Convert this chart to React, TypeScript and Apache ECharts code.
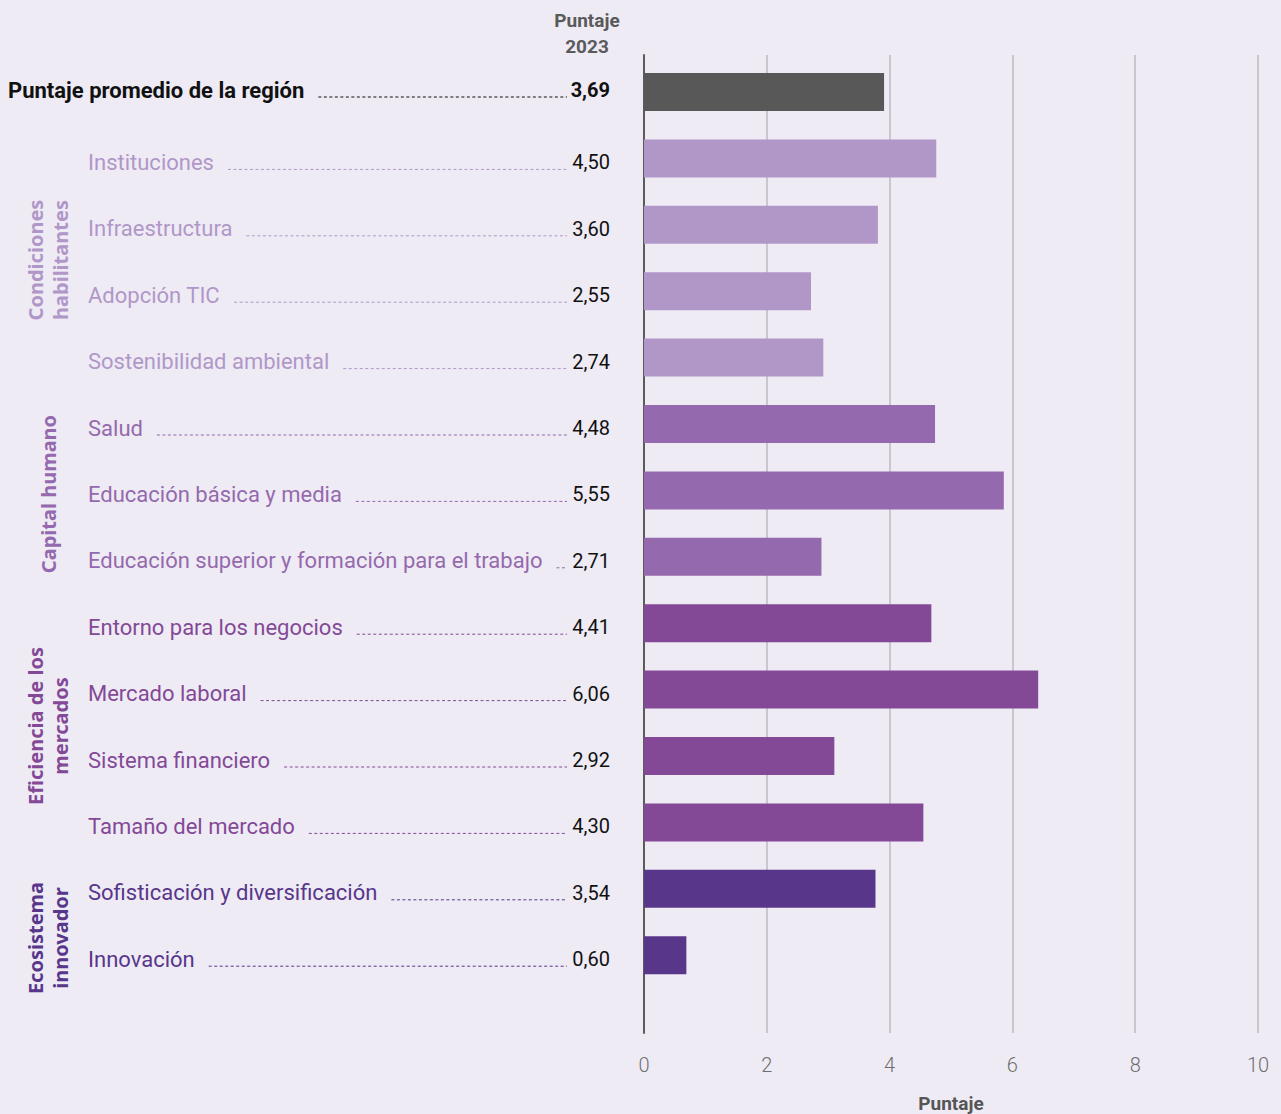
import React, { useEffect, useRef } from "react";
import * as echarts from "echarts";

const categories = [
  "Puntaje promedio de la región",
  "Instituciones",
  "Infraestructura",
  "Adopción TIC",
  "Sostenibilidad ambiental",
  "Salud",
  "Educación básica y media",
  "Educación superior y formación para el trabajo",
  "Entorno para los negocios",
  "Mercado laboral",
  "Sistema financiero",
  "Tamaño del mercado",
  "Sofisticación y diversificación",
  "Innovación",
];
const scoreLabels = ["3,69", "4,50", "3,60", "2,55", "2,74", "4,48", "5,55", "2,71", "4,41", "6,06", "2,92", "4,30", "3,54", "0,60"];
const barValues = [3.91, 4.76, 3.81, 2.72, 2.92, 4.74, 5.86, 2.89, 4.68, 6.42, 3.1, 4.55, 3.77, 0.69];
const pillarOf = [0, 1, 1, 1, 1, 2, 2, 2, 3, 3, 3, 3, 4, 4];
const pillarNames = ["", "Condiciones\nhabilitantes", "Capital humano", "Eficiencia de los\nmercados", "Ecosistema\ninnovador"];
const pillarColors = ["#585858", "#b097c8", "#9569ad", "#834996", "#58368a"];
const xTicks = [0, 2, 4, 6, 8, 10];

const BG = "#eeebf5";
const FONT = "Roboto,'Liberation Sans','DejaVu Sans',sans-serif";
const BOLDF = "'Noto Sans','Open Sans',sans-serif";

let measureCtx: CanvasRenderingContext2D | null = null;
function measure(text: string, weight: string, size: number, family: string) {
  if (!measureCtx) measureCtx = document.createElement("canvas").getContext("2d");
  if (!measureCtx) return text.length * size * 0.5;
  measureCtx.font = `${weight} ${size}px ${family}`;
  return measureCtx.measureText(text).width;
}

export default function App() {
  const ref = useRef<HTMLDivElement>(null);
  useEffect(() => {
    document.body.style.margin = "0";
    const chart = echarts.init(ref.current!, null, { renderer: "svg" });
    const gridLeft = 644;
    const gridWidth = 614;
    const band = 66.4;
    const firstCenter = 92;
    const barsTop = firstCenter - band / 2;

    const option: any = {
      animation: false,
      backgroundColor: BG,
      grid: [
        { left: gridLeft, width: gridWidth, top: barsTop, height: band * categories.length, outerBoundsMode: "none", containLabel: false },
        { left: gridLeft, width: gridWidth, top: 55, height: 978, outerBoundsMode: "none", containLabel: false },
      ],
      xAxis: [
        { type: "value", gridIndex: 0, min: 0, max: 10, show: false },
        {
          type: "value",
          gridIndex: 1,
          min: xTicks[0],
          max: xTicks[xTicks.length - 1],
          interval: 2,
          axisLine: { show: false },
          axisTick: { show: false },
          splitLine: { show: true, lineStyle: { color: "#c9c6ce", width: 2 } },
          axisLabel: { fontSize: 20, color: "#6e6e6e", margin: 22, fontFamily: FONT, fontWeight: 300 },
          name: "Puntaje",
          nameLocation: "middle",
          nameGap: 61,
          nameTextStyle: { fontSize: 19, fontWeight: "bold", color: "#555555", fontFamily: FONT },
        },
      ],
      yAxis: [
        { type: "category", gridIndex: 0, data: categories, inverse: true, show: false },
        {
          type: "value",
          gridIndex: 1,
          min: 0,
          max: 1,
          axisLine: { show: true, lineStyle: { color: "#5b5b5b", width: 2 } },
          axisTick: { show: false },
          axisLabel: { show: false },
          splitLine: { show: false },
        },
      ],
      series: [
        { type: "line", xAxisIndex: 1, yAxisIndex: 1, data: [], silent: true },
        {
          type: "bar",
          xAxisIndex: 0,
          yAxisIndex: 0,
          barWidth: 38,
          silent: true,
          z: 3,
          data: barValues.map((v, i) => ({ value: v, itemStyle: { color: pillarColors[pillarOf[i]] } })),
        },
        {
          type: "custom",
          xAxisIndex: 0,
          yAxisIndex: 0,
          silent: true,
          clip: false,
          data: categories.map((_, i) => [0, i]),
          renderItem: (params: any, api: any) => {
            const i = params.dataIndex;
            const yBar = api.coord([0, i])[1];
            const isAvg = pillarOf[i] === 0;
            const y = yBar + (isAvg ? -2 : 4);
            const color = isAvg ? "#111111" : pillarColors[pillarOf[i]];
            const x0 = isAvg ? 8 : 88;
            const weight = isAvg ? "bold" : "normal";
            const size = 22;
            const w = measure(categories[i], weight, size, FONT);
            return {
              type: "group",
              children: [
                {
                  type: "line",
                  shape: { x1: x0 + w + 14, y1: y + 7, x2: 567, y2: y + 7 },
                  style: { stroke: color, lineWidth: 1, lineDash: [3, 2.5] },
                },
                {
                  type: "text",
                  x: x0,
                  y: y,
                  style: {
                    text: categories[i],
                    fill: color,
                    fontSize: size,
                    fontWeight: weight,
                    fontFamily: FONT,
                    align: "left",
                    verticalAlign: "middle",
                  },
                },
                {
                  type: "text",
                  x: 610,
                  y: y,
                  style: {
                    text: scoreLabels[i],
                    fill: "#111111",
                    fontSize: 20,
                    fontWeight: weight,
                    fontFamily: FONT,
                    align: "right",
                    verticalAlign: "middle",
                  },
                },
              ],
            };
          },
        },
      ],
      graphic: [
        {
          type: "text",
          x: 587,
          y: 33,
          style: {
            text: "Puntaje\n2023",
            fill: "#5a5a5a",
            fontSize: 19,
            fontWeight: "bold",
            fontFamily: FONT,
            lineHeight: 26,
            align: "center",
            verticalAlign: "middle",
          },
        },
        ...[
          { p: 1, y: 260 },
          { p: 2, y: 494 },
          { p: 3, y: 726 },
          { p: 4, y: 938 },
        ].map((g) => ({
          type: "text",
          x: 48,
          y: g.y,
          rotation: Math.PI / 2,
          style: {
            text: pillarNames[g.p],
            fill: pillarColors[g.p],
            fontSize: 20,
            fontWeight: "bold",
            fontFamily: BOLDF,
            lineHeight: 25,
            align: "center",
            verticalAlign: "middle",
          },
        })),
      ],
    };
    chart.setOption(option);
    return () => chart.dispose();
  }, []);
  return <div ref={ref} style={{ position: "absolute", left: 0, top: 0, width: 1281, height: 1114 }} />;
}
